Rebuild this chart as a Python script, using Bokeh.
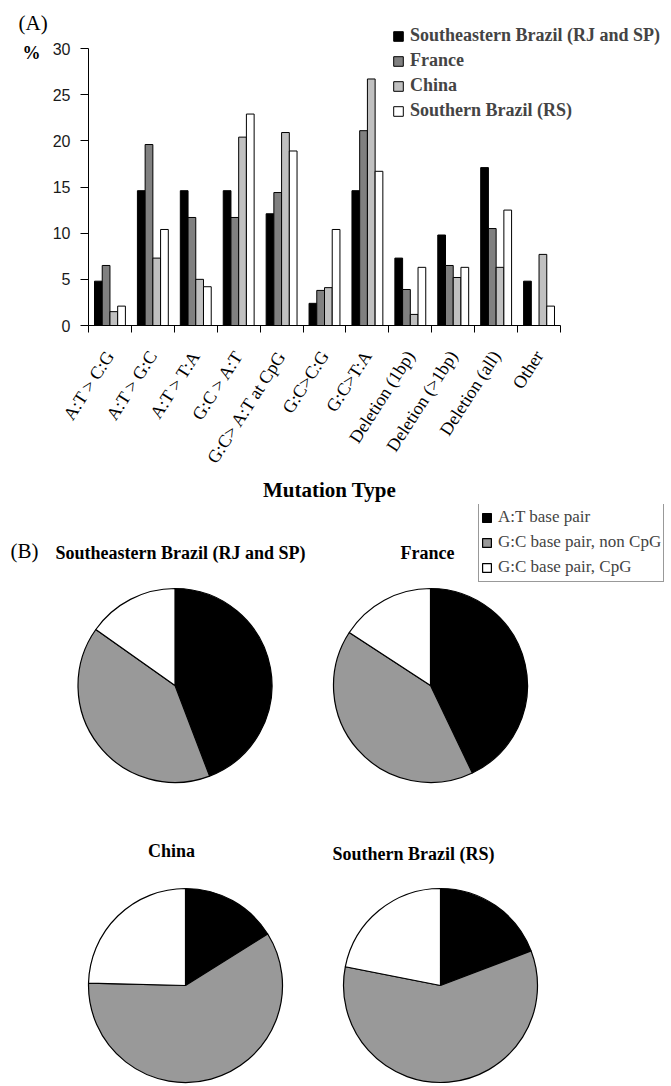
import math
import numpy as np
from bokeh.plotting import figure
from bokeh.models import Range1d, FixedTicker, Legend, LegendItem, Label, ColumnDataSource
from bokeh.layouts import column
from bokeh.embed import file_html
from bokeh.resources import INLINE
from bokeh.core.properties import value

# ---------------- data ----------------
categories = ["A:T > C:G", "A:T > G:C", "A:T > T:A", "G:C > A:T", "G:C> A:T at CpG",
              "G:C>C:G", "G:C>T:A", "Deletion (1bp)", "Deletion (>1bp)", "Deletion (all)", "Other"]
series_names = ["Southeastern Brazil (RJ and SP)", "France", "China", "Southern Brazil (RS)"]
se_brazil = [4.8, 14.6, 14.6, 14.6, 12.1, 2.4, 14.6, 7.3, 9.8, 17.1, 4.8]
france = [6.5, 19.6, 11.7, 11.7, 14.4, 3.8, 21.1, 3.9, 6.5, 10.5, 0.0]
china = [1.5, 7.3, 5.0, 20.4, 20.9, 4.1, 26.7, 1.2, 5.2, 6.3, 7.7]
s_brazil = [2.1, 10.4, 4.2, 22.9, 18.9, 10.4, 16.7, 6.3, 6.3, 12.5, 2.1]
y_ticks = [0, 5, 10, 15, 20, 25, 30]

pie_groups = ["A:T base pair", "G:C base pair, non CpG", "G:C base pair, CpG"]
pie_se_brazil = [44.2, 40.6, 15.2]
pie_france = [42.9, 41.3, 15.8]
pie_china = [16.1, 59.3, 24.6]
pie_s_brazil = [19.2, 58.9, 21.9]

# ---------------- styles / layout ----------------
bar_colors = ["#000000", "#808080", "#c0c0c0", "#ffffff"]
pie_colors = ["#000000", "#999999", "#ffffff"]
SERIF = "Liberation Serif"
SANS = "Liberation Sans"

W = 671
H1 = 504
H2 = 582

# pixel geometry of the bar plot area (axes drawn at fixed locations)
AX_L, AX_R, AX_T, AX_B = 88.0, 560.0, 48.0, 325.0
n = len(categories)
ymax = 30.0
ux = (AX_R - AX_L) / n
uy = (AX_B - AX_T) / ymax

def xd(px):
    return -0.5 + (px - AX_L) / ux

def yd(py):
    return (AX_B - py) / uy

# ---------------- (A) bar chart ----------------
p = figure(width=W, height=H1,
           x_range=Range1d(xd(0), xd(W)), y_range=Range1d(yd(H1), yd(0)),
           output_backend="svg", toolbar_location=None, min_border=0)
p.xgrid.visible = False
p.ygrid.visible = False
p.outline_line_color = None
p.background_fill_color = "white"

idx = np.arange(n)
bw = 0.18
offsets = [-1.5, -0.5, 0.5, 1.5]
renderers = []
for vals, color, off in zip([se_brazil, france, china, s_brazil], bar_colors, offsets):
    src = ColumnDataSource(dict(x=idx + off * bw, top=vals))
    r = p.vbar(x="x", top="top", bottom=0, width=bw, source=src,
               fill_color=color, line_color="black", line_width=1)
    renderers.append(r)

# y axis
yax = p.yaxis[0]
yax.fixed_location = -0.5
yax.bounds = (0, ymax)
yax.ticker = FixedTicker(ticks=y_ticks)
yax.major_tick_out = 8
yax.major_tick_in = 0
yax.minor_tick_out = 0
yax.minor_tick_in = 0
yax.axis_line_color = "black"
yax.major_tick_line_color = "black"
yax.major_label_text_font = SANS
yax.major_label_text_font_size = "16px"
yax.major_label_text_color = "#1a1a1a"
yax.major_label_standoff = 10

# x axis
xax = p.xaxis[0]
xax.fixed_location = 0
xax.bounds = (-0.5, n - 0.5)
xax.ticker = FixedTicker(ticks=[int(i) for i in idx],
                         minor_ticks=[float(i) - 0.5 for i in range(n + 1)])
xax.major_tick_out = 0
xax.major_tick_in = 0
xax.minor_tick_out = 7
xax.minor_tick_in = 0
xax.minor_tick_line_color = "black"
xax.axis_line_color = "black"
xax.major_label_overrides = {int(i): c for i, c in zip(idx, categories)}
xax.major_label_orientation = 1.0
xax.major_label_text_font = SERIF
xax.major_label_text_font_size = "18px"
xax.major_label_text_color = "black"
xax.major_label_standoff = 20

p.add_layout(Label(x=xd(329), y=yd(489), text="Mutation Type", text_align="center",
                   text_baseline="middle", text_font=SERIF, text_font_style="bold",
                   text_font_size="21px", text_color="black"))
p.add_layout(Label(x=xd(31), y=yd(52), text="%", text_align="center", text_baseline="middle",
                   text_font=SERIF, text_font_style="bold", text_font_size="18px",
                   text_color="black"))
p.add_layout(Label(x=xd(18), y=yd(22), text="(A)", text_align="left", text_baseline="middle",
                   text_font=SERIF, text_font_size="21px", text_color="black"))

legA = Legend(items=[LegendItem(label=nm, renderers=[r]) for nm, r in zip(series_names, renderers)],
              location=(392, H1 - 123), padding=0, margin=0, spacing=0, label_height=25,
              glyph_width=12, glyph_height=12, label_standoff=6,
              border_line_color=None, background_fill_alpha=0,
              label_text_font=SERIF, label_text_font_style="bold", label_text_font_size="18px")
p.add_layout(legA)

# ---------------- (B) pie charts ----------------
Y0 = H1
q = figure(width=W, height=H2, x_range=Range1d(0, W), y_range=Range1d(Y0 + H2, Y0),
           output_backend="svg", toolbar_location=None, min_border=0,
           x_axis_location=None, y_axis_location=None)
q.grid.visible = False
q.outline_line_color = None

pie_x = [174.5, 430, 185, 440]
pie_y = [685, 685, 985, 985]
R = 97
pies = np.array([pie_se_brazil, pie_france, pie_china, pie_s_brazil], dtype=float)
frac = pies / pies.sum(axis=1, keepdims=True)
cum = np.cumsum(frac, axis=1)
cum0 = cum - frac
pie_rs = []
for k, (g, col) in enumerate(zip(pie_groups, pie_colors)):
    src = ColumnDataSource(dict(x=pie_x, y=pie_y,
                                start=list(math.pi / 2 - 2 * math.pi * cum0[:, k]),
                                end=list(math.pi / 2 - 2 * math.pi * cum[:, k])))
    r = q.wedge(x="x", y="y", radius=R, start_angle="start", end_angle="end", direction="clock",
                source=src, fill_color=col, line_color="black", line_width=1.2)
    pie_rs.append(r)

title_x = [180, 427, 171, 413]
title_y = [552, 552, 850, 853]
q.text(x=title_x, y=title_y, text=series_names, text_align="center", text_baseline="middle",
       text_font=value(SERIF), text_font_style="bold", text_font_size="18px", text_color="black")
q.text(x=[10], y=[550], text=["(B)"], text_align="left", text_baseline="middle",
       text_font=value(SERIF), text_font_size="21px", text_color="black")

legB = Legend(items=[LegendItem(label=g, renderers=[r]) for g, r in zip(pie_groups, pie_rs)],
              location=(478, Y0 + H2 - 582), padding=2, margin=0, spacing=1, label_height=24,
              glyph_width=11, glyph_height=11, label_standoff=6,
              border_line_color="#333333", border_line_width=1, background_fill_color="white",
              label_text_font=SERIF, label_text_font_size="17px")
q.add_layout(legB)

layout = column(p, q)
open("out.html", "w").write(file_html(layout, INLINE))
